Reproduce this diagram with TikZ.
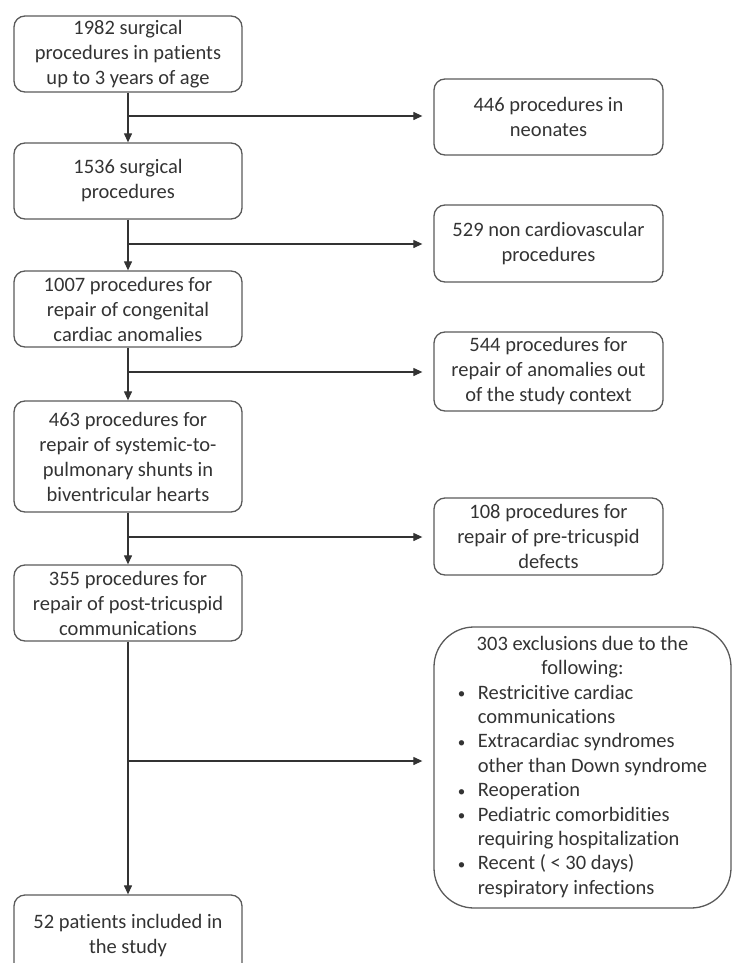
\documentclass[tikz,border=0pt]{standalone}
\usepackage{fontspec}
\setmainfont{Carlito}[Ligatures=NoCommon]
\usetikzlibrary{arrows.meta}
\definecolor{txt}{HTML}{333333}
\definecolor{brd}{HTML}{5A5A5A}
\definecolor{ln}{HTML}{333333}
\newcommand{\smallbul}{\makebox[20pt][l]{\raisebox{0.5pt}{\fontsize{15}{15}\selectfont\textbullet}}}
\begin{document}
\begin{tikzpicture}[x=1pt,y=-1pt,
  box/.style={draw=brd, line width=1.3pt, rounded corners=11pt, align=center, inner sep=2pt, text=txt, font=\fontsize{20.5}{25}\selectfont},
  lbox/.style={box, minimum width=228pt},
  rbox/.style={box, minimum width=229pt},
  flow/.style={draw=ln, line width=1.2pt, -{Triangle[length=9pt,width=8pt]}},
  side/.style={flow, shorten >=11pt},
  ]
\useasboundingbox (0,0) rectangle (733,963);
\clip (0,0) rectangle (733,963);

\node[lbox, minimum height=76pt] (b1) at (128,54) {1982 surgical\\procedures in patients\\up to 3 years of age};
\node[lbox, minimum height=76pt] (b2) at (128,181) {1536 surgical\\procedures};
\node[lbox, minimum height=76pt] (b3) at (128,309) {1007 procedures for\\repair of congenital\\cardiac anomalies};
\node[lbox, minimum height=111pt] (b4) at (128,456.5) {463 procedures for\\repair of systemic-to-\\pulmonary shunts in\\biventricular hearts};
\node[lbox, minimum height=76pt] (b5) at (128,603) {355 procedures for\\repair of post-tricuspid\\communications};
\node[lbox, minimum height=82pt] (b6) at (128,936) {52 patients included in\\the study};

\node[rbox, minimum height=76pt] (r1) at (548.5,117) {446 procedures in\\neonates};
\node[rbox, minimum height=77pt] (r2) at (548.5,243.5) {529 non cardiovascular\\procedures};
\node[rbox, minimum height=79pt] (r3) at (548.5,371.5) {544 procedures for\\repair of anomalies out\\of the study context};
\node[rbox, minimum height=77pt] (r4) at (548.5,536.5) {108 procedures for\\repair of pre-tricuspid\\defects};
\node[box, minimum width=297pt, minimum height=281pt, rounded corners=40pt, font=\fontsize{20.5}{24.4}\selectfont] (r5) at (582.5,767.5) {%
\begin{tabular}{@{}l@{}l@{}}
\multicolumn{2}{c}{303 exclusions due to the}\\
\multicolumn{2}{c}{following:}\\
\smallbul & Restricitive cardiac\\
 & communications\\
\smallbul & Extracardiac syndromes\\
 & other than Down syndrome\\
\smallbul & Reoperation\\
\smallbul & Pediatric comorbidities\\
 & requiring hospitalization\\
\smallbul & Recent ( < 30 days)\\
 & respiratory infections
\end{tabular}};

\coordinate (j1) at (128,116);
\coordinate (j2) at (128,244);
\coordinate (j3) at (128,372);
\coordinate (j4) at (128,537);
\coordinate (j5) at (128,761);

\draw[flow] (b1) -- (b2);
\draw[flow] (b2) -- (b3);
\draw[flow] (b3) -- (b4);
\draw[flow] (b4) -- (b5);
\draw[flow] (b5) -- (b6);

\draw[side] (j1) -- (j1 -| r1.west);
\draw[side] (j2) -- (j2 -| r2.west);
\draw[side] (j3) -- (j3 -| r3.west);
\draw[side] (j4) -- (j4 -| r4.west);
\draw[side] (j5) -- (j5 -| r5.west);
\end{tikzpicture}
\end{document}
